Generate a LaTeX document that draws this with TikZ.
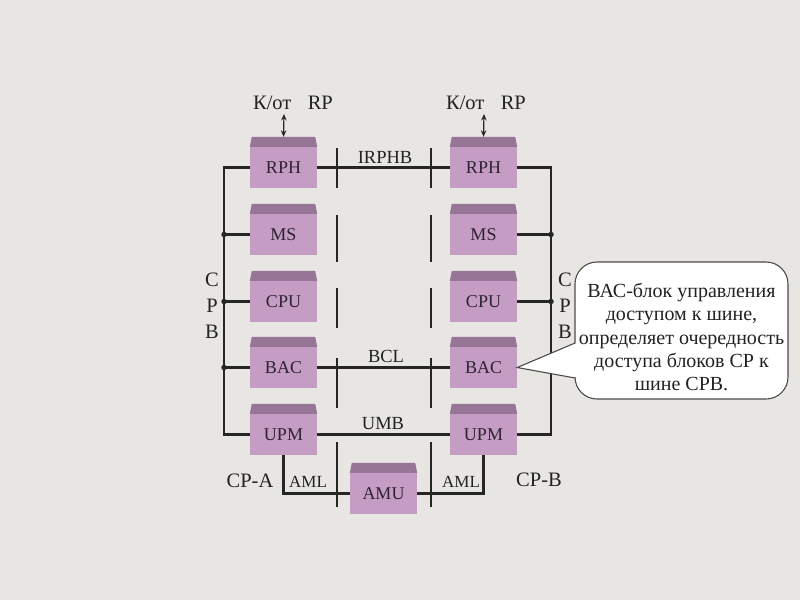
\documentclass[tikz,border=0pt]{standalone}
\usepackage{fontspec}
\setmainfont{Liberation Serif}
\newfontfamily\serfont{Liberation Serif}
\usetikzlibrary{arrows.meta}
\definecolor{bgc}{HTML}{E7E6E2}
\definecolor{bodyc}{HTML}{C49CC4}
\definecolor{lidc}{HTML}{967596}
\definecolor{linec}{HTML}{262626}
\definecolor{txtc}{HTML}{222222}
\definecolor{boxtxt}{HTML}{2E2232}
\tikzset{
  blk/.style={fill=bodyc, minimum width=67pt, minimum height=41pt, inner sep=0pt,
    font=\serfont\fontsize{18}{20}\selectfont, text=boxtxt},
  lidfill/.style={fill=lidc},
  bus/.style={draw=linec, line width=2.2pt},
  sep/.style={draw=linec, line width=1.1pt},
  lbl/.style={font=\serfont\fontsize{18.5}{20}\selectfont, text=txtc, inner sep=0pt},
  biglbl/.style={font=\serfont\fontsize{20.5}{22}\selectfont, text=txtc, inner sep=0pt},
  smalllbl/.style={font=\serfont\fontsize{17}{20}\selectfont, text=txtc, inner sep=0pt},
  jdot/.style={circle, fill=linec, inner sep=0pt, minimum size=5.5pt},
  calloutshape/.style={fill=white, draw=black!70, line width=1.1pt},
  callouttext/.style={font=\serfont\fontsize{20}{23.2}\selectfont, text=txtc, align=center, inner sep=0pt},
  dblarrow/.style={draw=linec, line width=1.2pt, {Stealth[length=6.5pt,width=5.5pt]}-{Stealth[length=6.5pt,width=5.5pt]}}
}
\newcommand\boxlid[1]{\fill[lidfill] (#1.north west) -- ([xshift=2pt,yshift=10pt]#1.north west) -- ([xshift=-2pt,yshift=10pt]#1.north east) -- (#1.north east) -- cycle;}
\begin{document}
\begin{tikzpicture}[x=1pt,y=-1pt]
\useasboundingbox (0,0) rectangle (800,600);
\fill[bgc] (0,0) rectangle (800,600);

% separator segments
\foreach \sx in {337,431}{
  \foreach \ya/\yb in {148/188,215/262,288/328,358/408,442/507}{
    \draw[sep] (\sx,\ya) -- (\sx,\yb);
  }
}

% blocks
\foreach \nm/\tx/\yy in {rph/RPH/167.5, ms/MS/234.5, cpu/CPU/301.5, bac/BAC/367.5, upm/UPM/434.5}{
  \node[blk] (\nm A) at (283.5,\yy) {\tx};
  \boxlid{\nm A}
  \node[blk] (\nm B) at (483.5,\yy) {\tx};
  \boxlid{\nm B}
}
\node[blk] (amu) at (383.5,493.5) {AMU};
\boxlid{amu}

% left bus
\coordinate (lbTop) at (224,167.5);
\coordinate (lbBot) at (224,434.5);
\draw[bus] (rphA.west) -- (lbTop) -- (lbBot) -- (upmA.west);
\draw[bus] (msA.west) -- (msA.west -| lbTop) node[jdot] (dA1) {};
\draw[bus] (cpuA.west) -- (cpuA.west -| lbTop) node[jdot] (dA2) {};
\draw[bus] (bacA.west) -- (bacA.west -| lbTop) node[jdot] (dA3) {};

% right bus
\coordinate (rbTop) at (551,167.5);
\coordinate (rbBot) at (551,434.5);
\draw[bus] (rphB.east) -- (rbTop) -- (rbBot) -- (upmB.east);
\draw[bus] (msB.east) -- (msB.east -| rbTop) node[jdot] (dB1) {};
\draw[bus] (cpuB.east) -- (cpuB.east -| rbTop) node[jdot] (dB2) {};

% horizontal buses
\draw[bus] (rphA.east) -- (rphB.west);
\draw[bus] (bacA.east) -- (bacB.west);
\draw[bus] (upmA.east) -- (upmB.west);
\draw[bus] (upmA.south) -- (upmA.south |- amu.west) -- (amu.west);
\draw[bus] (amu.east) -- (upmB.south |- amu.east) -- (upmB.south);

% arrows to RP
\coordinate (rpA) at (284,114);
\coordinate (rpB) at (484,114);
\draw[dblarrow] (rpA) -- ([yshift=10pt]rphA.north);
\draw[dblarrow] (rpB) -- ([yshift=10pt]rphB.north);
\node[biglbl] (kA) at (293,103) {К/от\hspace{0.8em}RP};
\node[biglbl] (kB) at (486,103) {К/от\hspace{0.8em}RP};

% bus labels
\node[lbl] (lIR) at (385,157) {IRPHB};
\node[lbl] (lBCL) at (386,356) {BCL};
\node[lbl] (lUMB) at (383,424) {UMB};
\node[smalllbl] (lAML1) at (308,482) {AML};
\node[smalllbl] (lAML2) at (461,482) {AML};
\node[biglbl] (lCPA) at (250,481) {CP-A};
\node[biglbl] (lCPB) at (539,480) {CP-B};

% CPB vertical labels
\foreach \ch/\yy [count=\i] in {C/280,P/306,B/332}{
  \node[biglbl] (cl\i) at (212,\yy) {\ch};
  \node[biglbl] (cr\i) at (565,\yy) {\ch};
}

% callout
\draw[calloutshape] (575,343) [rounded corners=22pt] -- (575,262) -- (788,262) -- (788,399) -- (575,399) [sharp corners] -- (575,378) -- (bacB.east) -- cycle;
\node[callouttext] (note) at (681.5,337) {ВАС-блок управления\\доступом к шине,\\определяет очередность\\доступа блоков СР к\\шине СРВ.};
\end{tikzpicture}
\end{document}
